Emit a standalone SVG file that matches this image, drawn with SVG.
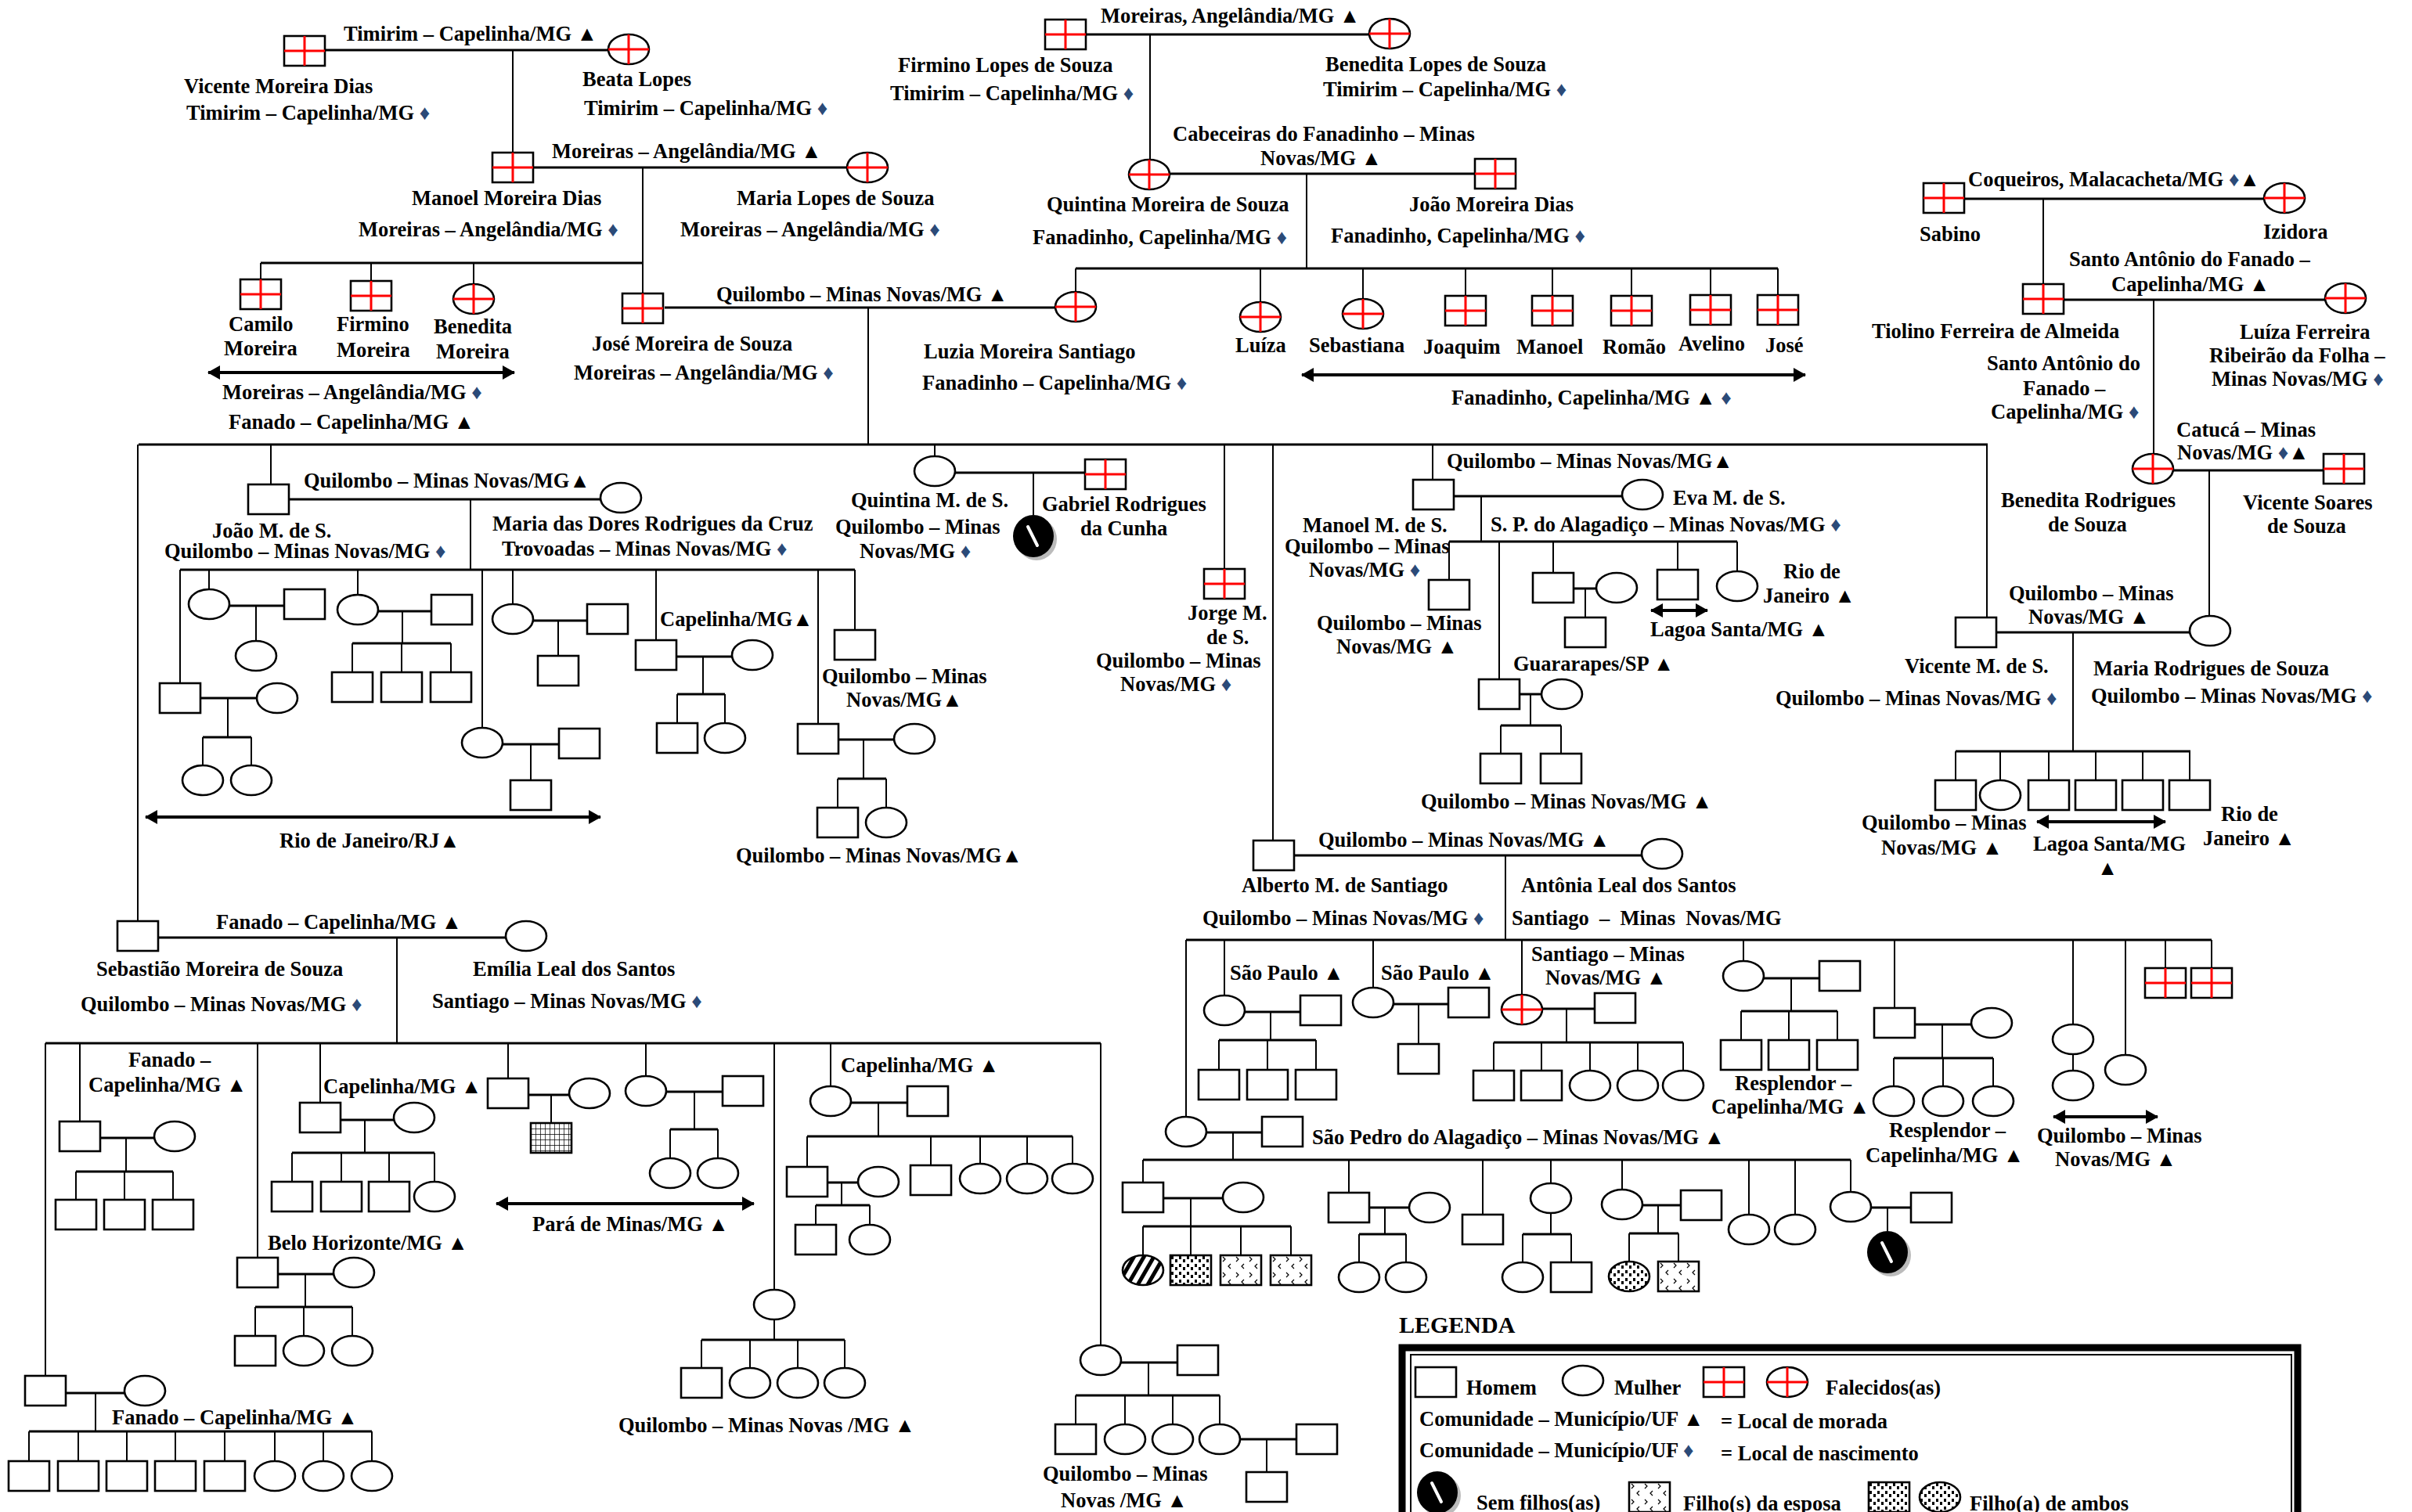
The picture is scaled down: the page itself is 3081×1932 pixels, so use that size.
<svg xmlns="http://www.w3.org/2000/svg" xmlns:xlink="http://www.w3.org/1999/xlink" width="3081" height="1932" viewBox="0 0 3081 1932">
<style>
.s{fill:#fff;stroke:#000;stroke-width:2.6}
.rx{stroke:#f00;stroke-width:3;fill:none}
.ln{stroke:#000;stroke-width:2;fill:none}
.cp{stroke:#000;stroke-width:3;fill:none}
.ar{stroke:#000;stroke-width:4;fill:none;marker-start:url(#ah);marker-end:url(#ah)}
text{font-family:"Liberation Serif","Times New Roman",serif;font-weight:bold;font-size:26.5px;fill:#000}
.d{fill:#2b4a78}
.big{font-size:30px}
.pre{white-space:pre}
</style>
<defs>
<marker id="ah" viewBox="0 0 16 18" refX="15" refY="9" markerWidth="16" markerHeight="18" markerUnits="userSpaceOnUse" orient="auto-start-reverse"><path d="M0 0L16 9L0 18z"/></marker>
<pattern id="pg" width="6" height="7" patternUnits="userSpaceOnUse"><path d="M0 0H6M0 0V7" stroke="#000" stroke-width="1.4"/></pattern>
<pattern id="pst" width="11" height="11" patternUnits="userSpaceOnUse" patternTransform="rotate(30)"><rect width="5" height="11" fill="#000"/></pattern>
<pattern id="pdot" width="10" height="10" patternUnits="userSpaceOnUse"><rect x="1" y="1" width="3" height="4"/><rect x="6" y="5" width="3" height="4"/></pattern>
<pattern id="pwv" width="17" height="20" patternUnits="userSpaceOnUse"><path d="M3 2l3 3-3 3M13 11l-3 3 3 3" stroke="#000" stroke-width="1.2" fill="none"/></pattern>
<rect id="M" width="52" height="38" class="s"/>
<ellipse id="F" cx="26" cy="19" rx="26" ry="19" class="s"/>
<path id="X" d="M26 0V38M0 19H52" class="rx"/>
<g id="DM"><use href="#M"/><use href="#X"/></g>
<g id="DF"><use href="#F"/><use href="#X"/></g>
<rect id="MG" width="52" height="38" fill="url(#pg)" stroke="#000" stroke-width="2.6"/>
<ellipse id="FS" cx="26" cy="19" rx="26" ry="19" fill="url(#pst)" stroke="#000" stroke-width="2.6"/>
<rect id="MD" width="52" height="38" fill="url(#pdot)" stroke="#000" stroke-width="2.6"/>
<ellipse id="FD" cx="26" cy="19" rx="26" ry="19" fill="url(#pdot)" stroke="#000" stroke-width="2.6"/>
<rect id="MW" width="52" height="38" fill="url(#pwv)" stroke="#000" stroke-width="2.6"/>
<g id="NC"><ellipse cx="30" cy="31" rx="26" ry="27" fill="#bbb"/><ellipse cx="26" cy="27" rx="26" ry="27" fill="#000"/><path d="M19 15L31 39" stroke="#fff" stroke-width="4" stroke-linecap="round"/></g>
</defs>
<rect width="3081" height="1932" fill="#fff"/>

<!-- lines of descent and of union -->
<g id="connectors">
<path class="cp" d="M416 64H777M681 214H1082M849 393H1348M1388 44H1749M1494 222H1884M2509 254H2892M2636 383H2970M2776 601H2968M2550 808H2797M369 638H767M256 892H328M293 774H363M483 781H551M642 951H714M681 793H750M864 839H935M1071 945H1142M1220 604H1386M1857 634H2072M1941 887H1969M2010 752H2039M1653 1093H2097M1541 1447H1612M1486 1531H1562M1749 1543H1800M2098 1540H2147M2390 1543H2441M1590 1293H1661M1780 1283H1850M1970 1289H2037M2253 1250H2324M2446 1309H2518M202 1198H646M84 1780H159M128 1454H197M355 1628H426M435 1431H503M675 1399H727M851 1395H923M1087 1409H1159M1057 1511H1096M1432 1741H1504M1584 1839H1656"/>
<path class="cp" d="M333 336H821M177 568H2539M1374 343H2271M2498 960H2798M230 728H1092M259 942H321M450 822H576M865 887H926M1070 995H1132M1851 692H2219M1917 927H1994M1515 1201H2825M1460 1482H2364M1460 1567H1649M1736 1577H1796M1945 1577H2007M2081 1576H2144M1557 1329H1681M1908 1332H2150M2224 1292H2347M2419 1352H2546M58 1333H1406M37 1829H475M97 1497H221M326 1670H450M373 1473H555M856 1443H917M896 1712H1079M1031 1452H1370M1042 1540H1111M1374 1783H1558"/>
<path class="ln" d="M655 64V195M821 214V375M333 336V357M474 336V359M605 336V363M1109 393V568M1469 44V204M1669 222V343M1374 343V373M1610 343V386M1741 343V382M1872 343V378M1983 343V378M2084 343V378M2185 343V377M2271 343V377M2610 254V363M2751 383V580M2822 601V787M2538 568V789M2648 808V960M2498 960V997M2555 960V997M2617 960V997M2677 960V997M2737 960V997M2797 960V997"/>
<path class="ln" d="M176 568V1177M346 568V619M601 638V728M230 728V873M291 892V942M259 942V978M321 942V978M267 728V753M327 774V819M457 728V760M514 781V822M450 822V859M513 822V859M576 822V859M616 728V930M678 951V997M655 728V772M713 793V838M838 728V818M898 839V887M865 887V924M926 887V924M1045 728V925M1103 945V995M1070 995V1032M1132 995V1032M1092 728V805"/>
<path class="ln" d="M1194 568V583M1320 604V658M1564 568V727M1626 568V1074M1830 568V613M1892 634V692M1851 692V741M1915 692V868M1955 887V927M1917 927V963M1994 927V963M1984 692V732M2025 752V789M2143 692V728M2219 692V730"/>
<path class="ln" d="M1923 1093V1201M1515 1201V1427M1564 1201V1272M1754 1201V1262M1944 1201V1271M2227 1201V1228M2420 1201V1288M2648 1201V1309M2715 1201V1348M2766 1201V1237M2825 1201V1237M1575 1447V1482M1460 1482V1511M1521 1531V1567M1460 1567V1604M1521 1567V1604M1585 1567V1604M1649 1567V1604M1723 1482V1524M1769 1543V1577M1736 1577V1613M1796 1577V1613M1894 1482V1552M1981 1482V1512M1981 1550V1577M1945 1577V1613M2007 1577V1613M2072 1482V1520M2118 1540V1576M2081 1576V1612M2144 1576V1612M2234 1482V1552M2293 1482V1552M2364 1482V1523M2411 1543V1573M1623 1293V1329M1557 1329V1367M1619 1329V1367M1681 1329V1367M1812 1283V1334M2001 1289V1332M1908 1332V1368M1969 1332V1368M2031 1332V1368M2092 1332V1368M2150 1332V1368M2288 1250V1292M2224 1292V1329M2285 1292V1329M2347 1292V1329M2481 1309V1352M2419 1352V1388M2482 1352V1388M2546 1352V1388M2648 1347V1368"/>
<path class="ln" d="M507 1198V1333M58 1333V1758M122 1780V1829M37 1829V1867M100 1829V1867M162 1829V1867M224 1829V1867M287 1829V1867M351 1829V1867M413 1829V1867M475 1829V1867M102 1333V1433M161 1454V1497M97 1497V1533M159 1497V1533M221 1497V1533M329 1333V1607M390 1628V1670M326 1670V1707M388 1670V1707M450 1670V1707M409 1333V1409M466 1431V1473M373 1473V1510M436 1473V1510M497 1473V1510M555 1473V1510M649 1333V1378M704 1399V1435M825 1333V1375M887 1395V1443M856 1443V1480M917 1443V1480M989 1333V1648M989 1686V1712M896 1712V1748M958 1712V1748M1019 1712V1748M1079 1712V1748M1061 1333V1388M1122 1409V1452M1031 1452V1491M1189 1452V1489M1252 1452V1487M1312 1452V1487M1370 1452V1487M1075 1511V1540M1042 1540V1565M1111 1540V1565M1406 1333V1719M1467 1741V1783M1374 1783V1820M1437 1783V1820M1498 1783V1820M1558 1783V1820M1618 1839V1881"/>
<!-- migration arrows -->
<path class="ar" d="M266 476H657"/>
<path class="ar" d="M1663 479H2306"/>
<path class="ar" d="M186 1044H767"/>
<path class="ar" d="M2109 780H2181"/>
<path class="ar" d="M2602 1050H2766"/>
<path class="ar" d="M634 1538H963"/>
<path class="ar" d="M2623 1427H2756"/>
</g>

<!-- first generations -->
<g id="n-vicente-md"><use href="#DM" x="363" y="46"/><text x="235" y="119">Vicente Moreira Dias</text><text x="238" y="153">Timirim – Capelinha/MG <tspan class="d">♦</tspan></text></g>
<g id="n-beata"><use href="#DF" x="777" y="44"/><text x="744" y="110">Beata Lopes</text><text x="746" y="147">Timirim – Capelinha/MG <tspan class="d">♦</tspan></text></g>
<g id="n-manoel-md"><use href="#DM" x="629" y="195"/><text x="526" y="262">Manoel Moreira Dias</text><text x="458" y="302">Moreiras – Angelândia/MG <tspan class="d">♦</tspan></text></g>
<g id="n-maria-ls"><use href="#DF" x="1082" y="195"/><text x="941" y="262">Maria Lopes de Souza</text><text x="869" y="302">Moreiras – Angelândia/MG <tspan class="d">♦</tspan></text></g>
<g id="n-camilo"><use href="#DM" x="307" y="357"/><text x="292" y="423">Camilo</text><text x="286" y="454">Moreira</text></g>
<g id="n-firmino-m"><use href="#DM" x="448" y="359"/><text x="430" y="423">Firmino</text><text x="430" y="456">Moreira</text></g>
<g id="n-benedita-m"><use href="#DF" x="579" y="363"/><text x="554" y="426">Benedita</text><text x="557" y="458">Moreira</text></g>
<g id="n-jose-ms"><use href="#DM" x="795" y="375"/><text x="756" y="448">José Moreira de Souza</text><text x="733" y="485">Moreiras – Angelândia/MG <tspan class="d">♦</tspan></text></g>
<g id="n-luzia"><use href="#DF" x="1348" y="373"/><text x="1180" y="458">Luzia Moreira Santiago</text><text x="1178" y="498">Fanadinho – Capelinha/MG <tspan class="d">♦</tspan></text></g>
<g id="n-firmino-ls"><use href="#DM" x="1335" y="25"/><text x="1147" y="92">Firmino Lopes de Souza</text><text x="1137" y="128">Timirim – Capelinha/MG <tspan class="d">♦</tspan></text></g>
<g id="n-benedita-ls"><use href="#DF" x="1749" y="24"/><text x="1693" y="91">Benedita Lopes de Souza</text><text x="1690" y="123">Timirim – Capelinha/MG <tspan class="d">♦</tspan></text></g>
<g id="n-quintina-ms"><use href="#DF" x="1442" y="204"/><text x="1337" y="270">Quintina Moreira de Souza</text><text x="1319" y="312">Fanadinho, Capelinha/MG <tspan class="d">♦</tspan></text></g>
<g id="n-joao-md"><use href="#DM" x="1884" y="203"/><text x="1800" y="270">João Moreira Dias</text><text x="1700" y="310">Fanadinho, Capelinha/MG <tspan class="d">♦</tspan></text></g>
<g id="n-luiza"><use href="#DF" x="1584" y="386"/><text x="1578" y="450">Luíza</text></g>
<g id="n-sebastiana"><use href="#DF" x="1715" y="382"/><text x="1672" y="450">Sebastiana</text></g>
<g id="n-joaquim"><use href="#DM" x="1846" y="378"/><text x="1818" y="452">Joaquim</text></g>
<g id="n-manoel"><use href="#DM" x="1957" y="378"/><text x="1937" y="452">Manoel</text></g>
<g id="n-romao"><use href="#DM" x="2058" y="378"/><text x="2047" y="452">Romão</text></g>
<g id="n-avelino"><use href="#DM" x="2159" y="377"/><text x="2144" y="448">Avelino</text></g>
<g id="n-jose"><use href="#DM" x="2245" y="377"/><text x="2255" y="450">José</text></g>
<g id="n-sabino"><use href="#DM" x="2457" y="234"/><text x="2452" y="308">Sabino</text></g>
<g id="n-izidora"><use href="#DF" x="2892" y="234"/><text x="2891" y="305">Izidora</text></g>
<g id="n-tiolino"><use href="#DM" x="2584" y="363"/><text x="2391" y="432">Tiolino Ferreira de Almeida</text><text x="2538" y="473">Santo Antônio do</text><text x="2584" y="505">Fanado –</text><text x="2543" y="535">Capelinha/MG <tspan class="d">♦</tspan></text></g>
<g id="n-luiza-f"><use href="#DF" x="2970" y="362"/><text x="2861" y="433">Luíza Ferreira</text><text x="2822" y="463">Ribeirão da Folha –</text><text x="2825" y="493">Minas Novas/MG <tspan class="d">♦</tspan></text></g>
<g id="n-benedita-rs"><use href="#DF" x="2724" y="580"/><text x="2556" y="648">Benedita Rodrigues</text><text x="2616" y="679">de Souza</text></g>
<g id="n-vicente-ss"><use href="#DM" x="2968" y="580"/><text x="2865" y="651">Vicente Soares</text><text x="2896" y="681">de Souza</text></g>

<!-- places of residence written over the unions -->
<g id="places">
<text x="439" y="52">Timirim – Capelinha/MG ▲</text>
<text x="705" y="202">Moreiras – Angelândia/MG ▲</text>
<text x="284" y="510">Moreiras – Angelândia/MG <tspan class="d">♦</tspan></text>
<text x="292" y="548">Fanado – Capelinha/MG ▲</text>
<text x="915" y="385">Quilombo – Minas Novas/MG ▲</text>
<text x="1406" y="29">Moreiras, Angelândia/MG ▲</text>
<text x="1498" y="180">Cabeceiras do Fanadinho – Minas</text>
<text x="1610" y="211">Novas/MG ▲</text>
<text x="1854" y="517">Fanadinho, Capelinha/MG ▲ <tspan class="d">♦</tspan></text>
<text x="2514" y="238">Coqueiros, Malacacheta/MG <tspan class="d">♦</tspan>▲</text>
<text x="2643" y="340">Santo Antônio do Fanado –</text>
<text x="2697" y="372">Capelinha/MG ▲</text>
<text x="2780" y="558">Catucá – Minas</text>
<text x="2781" y="587">Novas/MG <tspan class="d">♦</tspan>▲</text>
<text x="2566" y="767">Quilombo – Minas</text>
<text x="2591" y="797">Novas/MG ▲</text>
<text x="2378" y="1060">Quilombo – Minas</text>
<text x="2403" y="1092">Novas/MG ▲</text>
<text x="2597" y="1087">Lagoa Santa/MG</text>
<text x="2679" y="1118">▲</text>
<text x="2837" y="1049">Rio de</text>
<text x="2814" y="1080">Janeiro ▲</text>
<text x="388" y="623">Quilombo – Minas Novas/MG▲</text>
<text x="843" y="800">Capelinha/MG▲</text>
<text x="1050" y="873">Quilombo – Minas</text>
<text x="1081" y="903">Novas/MG▲</text>
<text x="357" y="1083">Rio de Janeiro/RJ▲</text>
<text x="940" y="1102">Quilombo – Minas Novas/MG▲</text>
<text x="1848" y="598">Quilombo – Minas Novas/MG▲</text>
<text x="1904" y="679">S. P. do Alagadiço – Minas Novas/MG <tspan class="d">♦</tspan></text>
<text x="1682" y="805">Quilombo – Minas</text>
<text x="1707" y="835">Novas/MG  ▲</text>
<text x="1933" y="857">Guararapes/SP ▲</text>
<text x="1815" y="1033">Quilombo – Minas Novas/MG  ▲</text>
<text x="2278" y="739">Rio de</text>
<text x="2252" y="770">Janeiro  ▲</text>
<text x="2108" y="813">Lagoa Santa/MG  ▲</text>
<text x="1684" y="1082">Quilombo – Minas Novas/MG  ▲</text>
<text x="1571" y="1252">São Paulo  ▲</text>
<text x="1764" y="1252">São Paulo  ▲</text>
<text x="1956" y="1228">Santiago – Minas</text>
<text x="1974" y="1258">Novas/MG  ▲</text>
<text x="2216" y="1393">Resplendor –</text>
<text x="2186" y="1423">Capelinha/MG ▲</text>
<text x="2413" y="1453">Resplendor –</text>
<text x="2383" y="1485">Capelinha/MG  ▲</text>
<text x="2602" y="1460">Quilombo – Minas</text>
<text x="2625" y="1490">Novas/MG  ▲</text>
<text x="1676" y="1462">São Pedro do Alagadiço – Minas Novas/MG  ▲</text>
<text x="276" y="1187">Fanado – Capelinha/MG  ▲</text>
<text x="164" y="1363">Fanado –</text>
<text x="113" y="1395">Capelinha/MG  ▲</text>
<text x="413" y="1397">Capelinha/MG  ▲</text>
<text x="1074" y="1370">Capelinha/MG  ▲</text>
<text x="342" y="1597">Belo Horizonte/MG  ▲</text>
<text x="680" y="1573">Pará de Minas/MG  ▲</text>
<text x="143" y="1820">Fanado – Capelinha/MG  ▲</text>
<text x="790" y="1830">Quilombo – Minas Novas /MG  ▲</text>
<text x="1332" y="1892">Quilombo – Minas</text>
<text x="1355" y="1926">Novas /MG  ▲</text>
</g>

<!-- Vicente M. de S. and Maria Rodrigues de Souza with their children -->
<g id="n-vicente-ms"><use href="#M" x="2498" y="789"/><text x="2433" y="860">Vicente M. de S.</text><text x="2268" y="901">Quilombo – Minas Novas/MG <tspan class="d">♦</tspan></text></g>
<g id="n-maria-rs"><use href="#F" x="2797" y="787"/><text x="2674" y="863">Maria Rodrigues de Souza</text><text x="2671" y="898">Quilombo – Minas Novas/MG <tspan class="d">♦</tspan></text></g>
<g id="n-vms-c1"><use href="#M" x="2472" y="997"/></g>
<g id="n-vms-c2"><use href="#F" x="2529" y="997"/></g>
<g id="n-vms-c3"><use href="#M" x="2591" y="997"/></g>
<g id="n-vms-c4"><use href="#M" x="2651" y="997"/></g>
<g id="n-vms-c5"><use href="#M" x="2711" y="997"/></g>
<g id="n-vms-c6"><use href="#M" x="2771" y="997"/></g>

<!-- João M. de S. and Maria das Dores -->
<g id="n-joao-ms"><use href="#M" x="317" y="619"/><text x="271" y="687">João M. de S.</text><text x="210" y="713">Quilombo – Minas Novas/MG <tspan class="d">♦</tspan></text></g>
<g id="n-maria-dores"><use href="#F" x="767" y="617"/><text x="629" y="678">Maria das Dores Rodrigues da Cruz</text><text x="641" y="710">Trovoadas – Minas Novas/MG <tspan class="d">♦</tspan></text></g>
<g id="n-b1"><use href="#M" x="204" y="873"/></g>
<g id="n-b1s"><use href="#F" x="328" y="873"/></g>
<g id="n-b1c1"><use href="#F" x="233" y="978"/></g>
<g id="n-b1c2"><use href="#F" x="295" y="978"/></g>
<g id="n-b2"><use href="#F" x="241" y="753"/></g>
<g id="n-b2s"><use href="#M" x="363" y="753"/></g>
<g id="n-b2c1"><use href="#F" x="301" y="819"/></g>
<g id="n-b3"><use href="#F" x="431" y="760"/></g>
<g id="n-b3s"><use href="#M" x="551" y="760"/></g>
<g id="n-b3c1"><use href="#M" x="424" y="859"/></g>
<g id="n-b3c2"><use href="#M" x="487" y="859"/></g>
<g id="n-b3c3"><use href="#M" x="550" y="859"/></g>
<g id="n-b4"><use href="#F" x="590" y="930"/></g>
<g id="n-b4s"><use href="#M" x="714" y="931"/></g>
<g id="n-b4c1"><use href="#M" x="652" y="997"/></g>
<g id="n-b5"><use href="#F" x="629" y="772"/></g>
<g id="n-b5s"><use href="#M" x="750" y="772"/></g>
<g id="n-b5c1"><use href="#M" x="687" y="838"/></g>
<g id="n-b6"><use href="#M" x="812" y="818"/></g>
<g id="n-b6s"><use href="#F" x="935" y="818"/></g>
<g id="n-b6c1"><use href="#M" x="839" y="924"/></g>
<g id="n-b6c2"><use href="#F" x="900" y="924"/></g>
<g id="n-b7"><use href="#M" x="1019" y="925"/></g>
<g id="n-b7s"><use href="#F" x="1142" y="925"/></g>
<g id="n-b7c1"><use href="#M" x="1044" y="1032"/></g>
<g id="n-b7c2"><use href="#F" x="1106" y="1032"/></g>
<g id="n-b8"><use href="#M" x="1066" y="805"/></g>

<!-- Quintina M. de S. and Gabriel -->
<g id="n-quintina-m"><use href="#F" x="1168" y="583"/><text x="1087" y="648">Quintina M. de S.</text><text x="1067" y="682">Quilombo – Minas</text><text x="1098" y="713">Novas/MG <tspan class="d">♦</tspan></text></g>
<g id="n-gabriel"><use href="#DM" x="1386" y="587"/><text x="1331" y="653">Gabriel Rodrigues</text><text x="1380" y="684">da Cunha</text></g>
<g id="n-quintina-nc"><use href="#NC" x="1294" y="658"/></g>

<!-- Jorge M. de S. -->
<g id="n-jorge"><use href="#DM" x="1538" y="727"/><text x="1517" y="792">Jorge M.</text><text x="1541" y="823">de S.</text><text x="1400" y="853">Quilombo – Minas</text><text x="1431" y="883">Novas/MG <tspan class="d">♦</tspan></text></g>

<!-- Manoel M. de S. and Eva -->
<g id="n-manoel-ms"><use href="#M" x="1805" y="613"/><text x="1664" y="680">Manoel M. de S.</text><text x="1641" y="707">Quilombo – Minas</text><text x="1672" y="737">Novas/MG <tspan class="d">♦</tspan></text></g>
<g id="n-eva"><use href="#F" x="2072" y="613"/><text x="2137" y="645">Eva M. de S.</text></g>
<g id="n-f1"><use href="#M" x="1825" y="741"/></g>
<g id="n-f2"><use href="#M" x="1889" y="868"/></g>
<g id="n-f2s"><use href="#F" x="1969" y="868"/></g>
<g id="n-f2c1"><use href="#M" x="1891" y="963"/></g>
<g id="n-f2c2"><use href="#M" x="1968" y="963"/></g>
<g id="n-f3"><use href="#M" x="1958" y="732"/></g>
<g id="n-f3s"><use href="#F" x="2039" y="732"/></g>
<g id="n-f3c1"><use href="#M" x="1999" y="789"/></g>
<g id="n-f4"><use href="#M" x="2117" y="728"/></g>
<g id="n-f5"><use href="#F" x="2193" y="730"/></g>

<!-- Alberto M. de Santiago and Antônia -->
<g id="n-alberto"><use href="#M" x="1601" y="1074"/><text x="1586" y="1140">Alberto M. de Santiago</text><text x="1536" y="1182">Quilombo – Minas Novas/MG <tspan class="d">♦</tspan></text></g>
<g id="n-antonia"><use href="#F" x="2097" y="1072"/><text x="1943" y="1140">Antônia Leal dos Santos</text><text class="pre" x="1931" y="1182">Santiago  –  Minas  Novas/MG</text></g>
<g id="n-e1"><use href="#F" x="1489" y="1427"/></g>
<g id="n-e1s"><use href="#M" x="1612" y="1427"/></g>
<g id="n-a1"><use href="#M" x="1434" y="1511"/></g>
<g id="n-a1s"><use href="#F" x="1562" y="1511"/></g>
<g id="n-a1c1"><use href="#FS" x="1434" y="1604"/></g>
<g id="n-a1c2"><use href="#MD" x="1495" y="1604"/></g>
<g id="n-a1c3"><use href="#MW" x="1559" y="1604"/></g>
<g id="n-a1c4"><use href="#MW" x="1623" y="1604"/></g>
<g id="n-a2"><use href="#M" x="1697" y="1524"/></g>
<g id="n-a2s"><use href="#F" x="1800" y="1524"/></g>
<g id="n-a2c1"><use href="#F" x="1710" y="1613"/></g>
<g id="n-a2c2"><use href="#F" x="1770" y="1613"/></g>
<g id="n-a3"><use href="#M" x="1868" y="1552"/></g>
<g id="n-a4"><use href="#F" x="1955" y="1512"/></g>
<g id="n-a4c1"><use href="#F" x="1919" y="1613"/></g>
<g id="n-a4c2"><use href="#M" x="1981" y="1613"/></g>
<g id="n-a5"><use href="#F" x="2046" y="1520"/></g>
<g id="n-a5s"><use href="#M" x="2147" y="1521"/></g>
<g id="n-a5c1"><use href="#FD" x="2055" y="1612"/></g>
<g id="n-a5c2"><use href="#MW" x="2118" y="1612"/></g>
<g id="n-a6"><use href="#F" x="2208" y="1552"/></g>
<g id="n-a7"><use href="#F" x="2267" y="1552"/></g>
<g id="n-a8"><use href="#F" x="2338" y="1523"/></g>
<g id="n-a8s"><use href="#M" x="2441" y="1524"/></g>
<g id="n-a8nc"><use href="#NC" x="2385" y="1573"/></g>
<g id="n-e2"><use href="#F" x="1538" y="1272"/></g>
<g id="n-e2s"><use href="#M" x="1661" y="1272"/></g>
<g id="n-e2c1"><use href="#M" x="1531" y="1367"/></g>
<g id="n-e2c2"><use href="#M" x="1593" y="1367"/></g>
<g id="n-e2c3"><use href="#M" x="1655" y="1367"/></g>
<g id="n-e3"><use href="#F" x="1728" y="1262"/></g>
<g id="n-e3s"><use href="#M" x="1850" y="1262"/></g>
<g id="n-e3c1"><use href="#M" x="1786" y="1334"/></g>
<g id="n-e4"><use href="#DF" x="1918" y="1271"/></g>
<g id="n-e4s"><use href="#M" x="2037" y="1269"/></g>
<g id="n-e4c1"><use href="#M" x="1882" y="1368"/></g>
<g id="n-e4c2"><use href="#M" x="1943" y="1368"/></g>
<g id="n-e4c3"><use href="#F" x="2005" y="1368"/></g>
<g id="n-e4c4"><use href="#F" x="2066" y="1368"/></g>
<g id="n-e4c5"><use href="#F" x="2124" y="1368"/></g>
<g id="n-e5"><use href="#F" x="2201" y="1228"/></g>
<g id="n-e5s"><use href="#M" x="2324" y="1228"/></g>
<g id="n-e5c1"><use href="#M" x="2198" y="1329"/></g>
<g id="n-e5c2"><use href="#M" x="2259" y="1329"/></g>
<g id="n-e5c3"><use href="#M" x="2321" y="1329"/></g>
<g id="n-e6"><use href="#M" x="2394" y="1288"/></g>
<g id="n-e6s"><use href="#F" x="2518" y="1288"/></g>
<g id="n-e6c1"><use href="#F" x="2393" y="1388"/></g>
<g id="n-e6c2"><use href="#F" x="2456" y="1388"/></g>
<g id="n-e6c3"><use href="#F" x="2520" y="1388"/></g>
<g id="n-e7"><use href="#F" x="2622" y="1309"/></g>
<g id="n-e7c1"><use href="#F" x="2622" y="1368"/></g>
<g id="n-e8"><use href="#F" x="2689" y="1348"/></g>
<g id="n-e9"><use href="#DM" x="2740" y="1237"/></g>
<g id="n-e10"><use href="#DM" x="2799" y="1237"/></g>

<!-- Sebastião Moreira de Souza and Emília -->
<g id="n-sebastiao"><use href="#M" x="150" y="1177"/><text x="123" y="1247">Sebastião Moreira de Souza</text><text x="103" y="1292">Quilombo – Minas Novas/MG <tspan class="d">♦</tspan></text></g>
<g id="n-emilia"><use href="#F" x="646" y="1177"/><text x="604" y="1247">Emília Leal dos Santos</text><text x="552" y="1288">Santiago – Minas Novas/MG <tspan class="d">♦</tspan></text></g>
<g id="n-s1"><use href="#M" x="32" y="1758"/></g>
<g id="n-s1s"><use href="#F" x="159" y="1758"/></g>
<g id="n-s1c"><use href="#M" x="11" y="1867"/><use href="#M" x="74" y="1867"/><use href="#M" x="136" y="1867"/><use href="#M" x="198" y="1867"/><use href="#M" x="261" y="1867"/><use href="#F" x="325" y="1867"/><use href="#F" x="387" y="1867"/><use href="#F" x="449" y="1867"/></g>
<g id="n-s2"><use href="#M" x="76" y="1433"/></g>
<g id="n-s2s"><use href="#F" x="197" y="1433"/></g>
<g id="n-s2c"><use href="#M" x="71" y="1533"/><use href="#M" x="133" y="1533"/><use href="#M" x="195" y="1533"/></g>
<g id="n-s3"><use href="#M" x="303" y="1607"/></g>
<g id="n-s3s"><use href="#F" x="426" y="1607"/></g>
<g id="n-s3c"><use href="#M" x="300" y="1707"/><use href="#F" x="362" y="1707"/><use href="#F" x="424" y="1707"/></g>
<g id="n-s4"><use href="#M" x="383" y="1409"/></g>
<g id="n-s4s"><use href="#F" x="503" y="1409"/></g>
<g id="n-s4c"><use href="#M" x="347" y="1510"/><use href="#M" x="410" y="1510"/><use href="#M" x="471" y="1510"/><use href="#F" x="529" y="1510"/></g>
<g id="n-s5"><use href="#M" x="623" y="1378"/></g>
<g id="n-s5s"><use href="#F" x="727" y="1378"/></g>
<g id="n-s5c"><use href="#MG" x="678" y="1435"/></g>
<g id="n-s6"><use href="#F" x="799" y="1375"/></g>
<g id="n-s6s"><use href="#M" x="923" y="1375"/></g>
<g id="n-s6c"><use href="#F" x="830" y="1480"/><use href="#F" x="891" y="1480"/></g>
<g id="n-s7"><use href="#F" x="963" y="1648"/></g>
<g id="n-s7c"><use href="#M" x="870" y="1748"/><use href="#F" x="932" y="1748"/><use href="#F" x="993" y="1748"/><use href="#F" x="1053" y="1748"/></g>
<g id="n-s8"><use href="#F" x="1035" y="1388"/></g>
<g id="n-s8s"><use href="#M" x="1159" y="1388"/></g>
<g id="n-s8c1"><use href="#M" x="1005" y="1491"/></g>
<g id="n-s8c1s"><use href="#F" x="1096" y="1491"/></g>
<g id="n-s8c1c"><use href="#M" x="1016" y="1565"/><use href="#F" x="1085" y="1565"/></g>
<g id="n-s8c"><use href="#M" x="1163" y="1489"/><use href="#F" x="1226" y="1487"/><use href="#F" x="1286" y="1487"/><use href="#F" x="1344" y="1487"/></g>
<g id="n-s9"><use href="#F" x="1380" y="1719"/></g>
<g id="n-s9s"><use href="#M" x="1504" y="1719"/></g>
<g id="n-s9c"><use href="#M" x="1348" y="1820"/><use href="#F" x="1411" y="1820"/><use href="#F" x="1472" y="1820"/><use href="#F" x="1532" y="1820"/></g>
<g id="n-s9c4s"><use href="#M" x="1656" y="1820"/></g>
<g id="n-s9gc"><use href="#M" x="1592" y="1881"/></g>

<!-- key -->
<g id="legend">
<text class="big" x="1787" y="1703">LEGENDA</text>
<rect x="1791" y="1722" width="1144" height="260" fill="none" stroke="#000" stroke-width="9"/>
<rect x="1802" y="1731" width="1125" height="250" fill="none" stroke="#000" stroke-width="2"/>
<use href="#M" x="1808" y="1747"/><text x="1873" y="1782">Homem</text>
<use href="#F" x="1996" y="1745"/><text x="2062" y="1782">Mulher</text>
<use href="#DM" x="2176" y="1747"/><use href="#DF" x="2257" y="1747"/><text x="2332" y="1782">Falecidos(as)</text>
<text x="1813" y="1822">Comunidade – Município/UF ▲</text><text x="2198" y="1825">= Local de morada</text>
<text x="1813" y="1862">Comunidade – Município/UF <tspan class="d">♦</tspan></text><text x="2198" y="1866">= Local de nascimento</text>
<use href="#NC" x="1810" y="1880"/><text x="1886" y="1929">Sem filhos(as)</text>
<use href="#MW" x="2081" y="1894"/><text x="2150" y="1930">Filho(s) da esposa</text>
<use href="#MD" x="2387" y="1894"/><use href="#FD" x="2452" y="1894"/><text x="2516" y="1930">Filho(a) de ambos</text>
</g>
</svg>
